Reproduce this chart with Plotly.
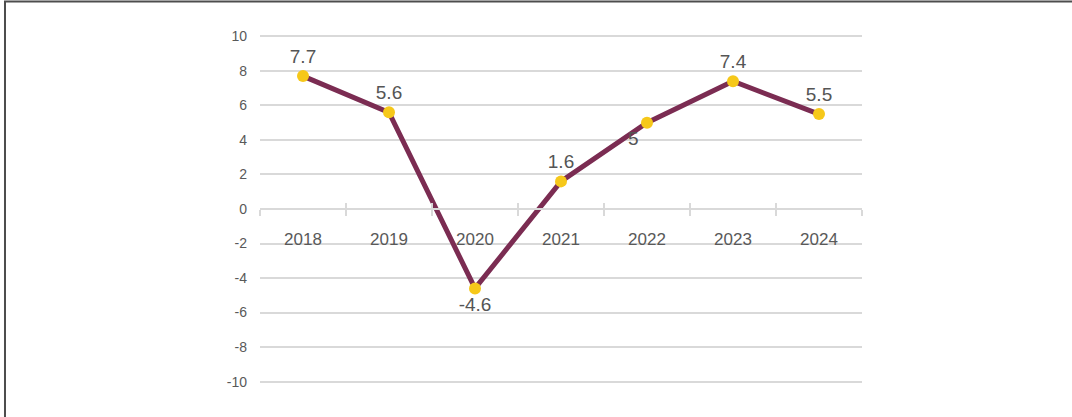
import plotly.graph_objects as go

years = ["2018", "2019", "2020", "2021", "2022", "2023", "2024"]
growth = [7.7, 5.6, -4.6, 1.6, 5, 7.4, 5.5]
label_pos = ["top center", "top center", "bottom center", "top center",
             "bottom left", "top center", "top center"]
y_ticks = [10, 8, 6, 4, 2, 0, -2, -4, -6, -8, -10]
y_tick_text = ["10", "8", "6", "4", "2", "0", "-2", "-4", "-6", "-8", "-10"]

FONT = "Liberation Sans"
GRID = "#d9d9d9"

fig = go.Figure()
fig.add_trace(go.Scatter(
    x=years, y=growth, mode="lines+markers+text",
    line=dict(color="#7B2C52", width=5),
    marker=dict(color="#F6C81A", size=12, line=dict(width=0)),
    text=[f"{v:g}" for v in growth], textposition=label_pos,
    textfont=dict(family=FONT, size=19, color="#555555"),
    cliponaxis=False, showlegend=False, hoverinfo="skip",
))
fig.add_trace(go.Scatter(
    x=years, y=growth, xaxis="x2", mode="markers", opacity=0,
    showlegend=False, hoverinfo="skip",
))

fig.update_layout(
    width=1072, height=417,
    margin=dict(l=260, r=210, t=35, b=34),
    paper_bgcolor="white", plot_bgcolor="white",
    font=dict(family=FONT, color="#595959"),
    xaxis=dict(
        type="category", categoryorder="array", categoryarray=years,
        range=[-0.5, 6.5], anchor="free", position=0.5,
        showgrid=False, zeroline=False,
        showline=True, linecolor=GRID, linewidth=1.5,
        ticks="outside", ticklen=6, tickcolor=GRID, tickwidth=1.5,
        tickson="boundaries", ticklabelstandoff=15,
        tickfont=dict(family=FONT, size=17, color="#595959"),
    ),
    xaxis2=dict(
        type="category", categoryorder="array", categoryarray=years,
        range=[-0.5, 6.5], anchor="free", position=0.5, overlaying="x",
        matches="x", showgrid=False, zeroline=False, showline=False,
        ticks="inside", ticklen=6, tickcolor=GRID, tickwidth=1.5,
        tickson="boundaries", showticklabels=False,
    ),
    yaxis=dict(
        range=[-10.08, 10.08], tickvals=y_ticks, ticktext=y_tick_text,
        showgrid=True, gridcolor=GRID,
        gridwidth=1.5, zeroline=False, showline=False,
        ticklabelstandoff=12,
        tickfont=dict(family=FONT, size=14, color="#595959"),
    ),
    shapes=[dict(
        type="rect", xref="paper", yref="paper",
        x0=-0.4236, x1=1.45, y0=-0.3, y1=1.0963,
        line=dict(color="#4d4d4d", width=2), fillcolor="rgba(0,0,0,0)",
        layer="below",
    )],
)

fig.write_html(
    "out.html",
    config={"displayModeBar": False},
    post_script="document.body.style.margin='0';document.body.style.overflow='hidden';",
)
